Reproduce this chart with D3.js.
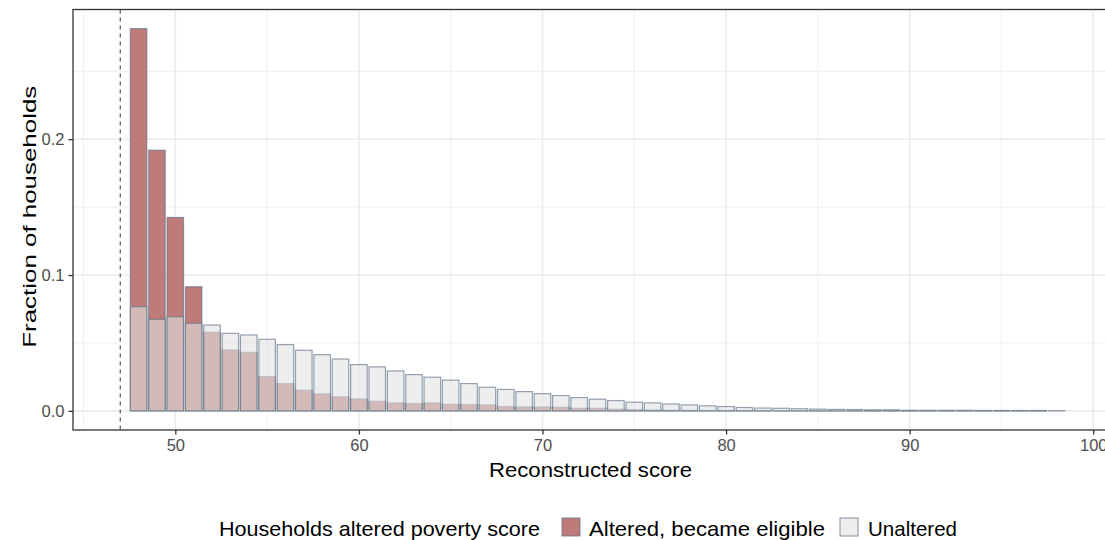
<!DOCTYPE html>
<html>
<head>
<meta charset="utf-8">
<script src="https://cdn.jsdelivr.net/npm/d3@7"></script>
<style>
  html, body { margin: 0; padding: 0; background: #fff; }
  svg { display: block; font-family: "Liberation Sans", Arial, sans-serif; }
</style>
</head>
<body>
<svg id="chart" width="1105" height="540"></svg>
<script>
// ---- data ----
const scores = d3.range(48, 99); // 48..98
const altered = [
  0.2814, 0.1919, 0.1424, 0.0914, 0.0579, 0.0449, 0.0431, 0.0252, 0.0201, 0.0152,
  0.0125, 0.0103, 0.0088, 0.0071, 0.0059, 0.0054, 0.0059, 0.0049, 0.0047, 0.0044,
  0.0032, 0.0029, 0.0029, 0.0027, 0.0020, 0.0020, 0.0012, 0.0010, 0.0007, 0.0005,
  0.0004, 0.0003, 0.0003, 0.0002, 0.0002, 0.0001, 0.0001, 0.0001, 0.0001, 0.0001,
  0.0001, 0.0001, 0.0001, 0.0001, 0.0001, 0.0001, 0.0001, 0.0001, 0.0001, 0.0001
]; // scores 48..97
const unaltered = [
  0.0767, 0.0674, 0.0693, 0.0645, 0.0632, 0.0571, 0.0559, 0.0527, 0.0488, 0.0446,
  0.0414, 0.0382, 0.0341, 0.0324, 0.0294, 0.0267, 0.0248, 0.0226, 0.0201, 0.0174,
  0.0158, 0.0142, 0.0127, 0.0113, 0.0098, 0.0086, 0.0076, 0.0064, 0.0059, 0.0051,
  0.0044, 0.0037, 0.0032, 0.0025, 0.0021, 0.0019, 0.0016, 0.0013, 0.0011, 0.0010,
  0.0008, 0.0008, 0.0005, 0.0004, 0.0004, 0.0004, 0.0003, 0.0003, 0.0003, 0.0003,
  0.0002
]; // scores 48..98
const cutoff = 47;
const xTicks = [50, 60, 70, 80, 90, 100];
const xMinor = [45, 55, 65, 75, 85, 95];
const yTicks = [0, 0.1, 0.2];
const yMinor = [0.05, 0.15, 0.25];
const legendLabels = ["Altered, became eligible", "Unaltered"];
const legendTitle = "Households altered poverty score";
const xTitle = "Reconstructed score";
const yTitle = "Fraction of households";

// ---- layout ----
const svg = d3.select("#chart");
const panel = { left: 73, top: 9.5, right: 1112, bottom: 430 };
const barW = 0.9;

const xLo = cutoff, xHi = scores[scores.length - 1] + barW / 2;
const xPad = (xHi - xLo) * 0.05;
const x = d3.scaleLinear().domain([xLo - xPad, xHi + xPad]).range([panel.left, panel.right]);

const yMax = d3.max(altered.concat(unaltered));
const yPad = yMax * 0.05;
const y = d3.scaleLinear().domain([-yPad, yMax + yPad]).range([panel.bottom, panel.top]);

const colRed = "#BF7A7A";
const colGray = "#E3E3E3";
const colStroke = "#5F7286";

// gridlines
const grid = svg.append("g");
grid.selectAll(".xmin").data(xMinor).enter().append("line")
  .attr("x1", d => x(d)).attr("x2", d => x(d))
  .attr("y1", panel.top).attr("y2", panel.bottom)
  .attr("stroke", "#EBEBEB").attr("stroke-width", 0.8);
grid.selectAll(".ymin").data(yMinor).enter().append("line")
  .attr("x1", panel.left).attr("x2", panel.right)
  .attr("y1", d => y(d)).attr("y2", d => y(d))
  .attr("stroke", "#EBEBEB").attr("stroke-width", 0.8);
grid.selectAll(".xmaj").data(xTicks).enter().append("line")
  .attr("x1", d => x(d)).attr("x2", d => x(d))
  .attr("y1", panel.top).attr("y2", panel.bottom)
  .attr("stroke", "#EBEBEB").attr("stroke-width", 1.6);
grid.selectAll(".ymaj").data(yTicks).enter().append("line")
  .attr("x1", panel.left).attr("x2", panel.right)
  .attr("y1", d => y(d)).attr("y2", d => y(d))
  .attr("stroke", "#EBEBEB").attr("stroke-width", 1.6);

// bars
const bw = x(barW) - x(0);
svg.append("g").selectAll("rect").data(altered).enter().append("rect")
  .attr("x", (d, i) => x(scores[i]) - bw / 2)
  .attr("width", bw)
  .attr("y", d => y(d))
  .attr("height", d => y(0) - y(d))
  .attr("fill", colRed)
  .attr("stroke", colStroke).attr("stroke-opacity", 0.65).attr("stroke-width", 1.2);

svg.append("g").selectAll("rect").data(unaltered).enter().append("rect")
  .attr("x", (d, i) => x(scores[i]) - bw / 2)
  .attr("width", bw)
  .attr("y", d => y(d))
  .attr("height", d => y(0) - y(d))
  .attr("fill", colGray).attr("fill-opacity", 0.6)
  .attr("stroke", colStroke).attr("stroke-opacity", 0.65).attr("stroke-width", 1.2);

// cutoff line
svg.append("line")
  .attr("x1", x(cutoff)).attr("x2", x(cutoff))
  .attr("y1", panel.top).attr("y2", panel.bottom)
  .attr("stroke", "#444").attr("stroke-width", 1.1)
  .attr("stroke-dasharray", "4,4");

// panel border
svg.append("rect")
  .attr("x", panel.left).attr("y", panel.top)
  .attr("width", panel.right - panel.left).attr("height", panel.bottom - panel.top)
  .attr("fill", "none").attr("stroke", "#333").attr("stroke-width", 1.3);

// axes
const xAxis = svg.append("g").attr("transform", `translate(0,${panel.bottom})`)
  .call(d3.axisBottom(x).tickValues(xTicks).tickSize(4.5).tickPadding(5).tickFormat(d3.format("d")));
const yAxis = svg.append("g").attr("transform", `translate(${panel.left},0)`)
  .call(d3.axisLeft(y).tickValues(yTicks).tickSize(4.5).tickPadding(4).tickFormat(d3.format(".1f")));
[xAxis, yAxis].forEach(a => {
  a.select(".domain").remove();
  a.selectAll(".tick line").attr("stroke", "#333").attr("stroke-width", 1.3);
  a.selectAll(".tick text").attr("fill", "#4D4D4D").attr("font-size", 16.5)
    .attr("font-family", "Liberation Sans, Arial, sans-serif");
});

// titles
svg.append("text")
  .attr("x", (panel.left + panel.right) / 2 - 2).attr("y", 477)
  .attr("text-anchor", "middle").attr("font-size", 20.5).attr("fill", "#000")
  .attr("textLength", 203).attr("lengthAdjust", "spacingAndGlyphs")
  .text(xTitle);
svg.append("text")
  .attr("transform", `translate(36,${(panel.top + panel.bottom) / 2 - 3}) rotate(-90)`)
  .attr("text-anchor", "middle").attr("font-size", 19).attr("fill", "#000")
  .attr("textLength", 262).attr("lengthAdjust", "spacingAndGlyphs")
  .text(yTitle);

// legend
const lg = svg.append("g");
lg.append("text").attr("x", 219).attr("y", 536).attr("font-size", 21).attr("fill", "#000")
  .attr("textLength", 321).attr("lengthAdjust", "spacingAndGlyphs")
  .text(legendTitle);
const keys = [
  { fill: colRed, op: 1, kx: 562, tx: 589, tw: 236 },
  { fill: colGray, op: 0.6, kx: 840, tx: 868, tw: 89 }
];
keys.forEach((k, i) => {
  lg.append("rect").attr("x", k.kx).attr("y", 518).attr("width", 18).attr("height", 18)
    .attr("fill", k.fill).attr("fill-opacity", k.op)
    .attr("stroke", colStroke).attr("stroke-opacity", 0.65).attr("stroke-width", 1.2);
  lg.append("text").attr("x", k.tx).attr("y", 536).attr("font-size", 21).attr("fill", "#000")
    .attr("textLength", k.tw).attr("lengthAdjust", "spacingAndGlyphs")
    .text(legendLabels[i]);
});
</script>
</body>
</html>
